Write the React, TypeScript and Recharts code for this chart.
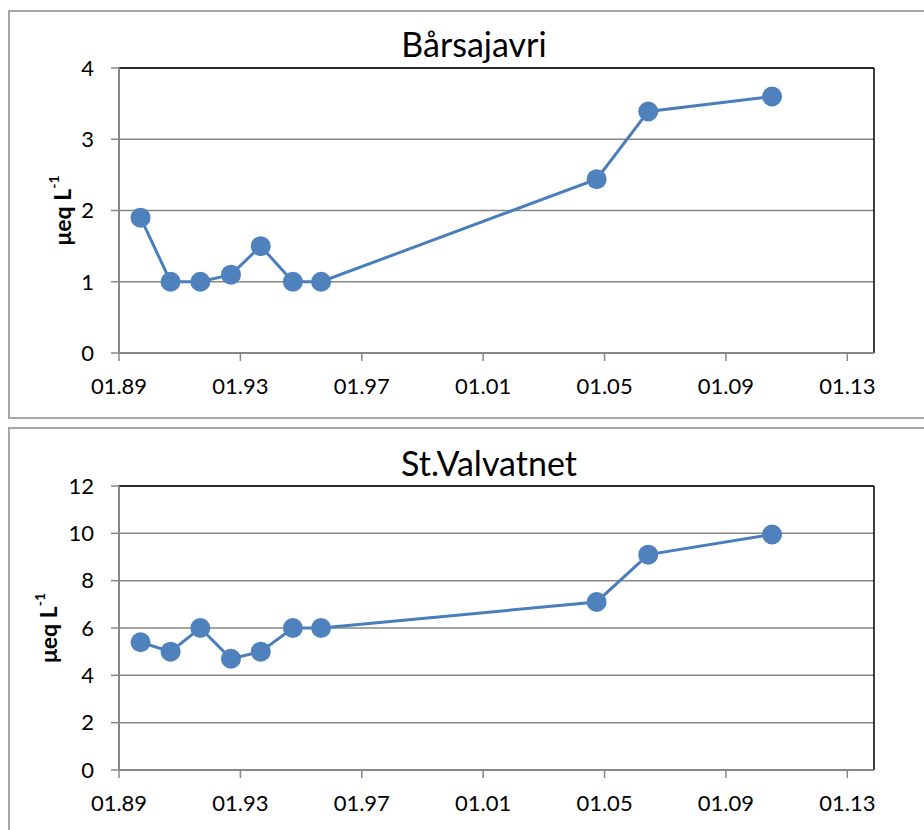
import { LineChart, Line, XAxis, YAxis, CartesianGrid, ReferenceLine } from "recharts";

// sampling dates as decimal years (same dates for both lakes)
const sampleYears = [1989.71, 1990.7, 1991.68, 1992.69, 1993.67, 1994.73, 1995.66, 2004.74, 2006.44, 2010.52];
const barsajavriValues = [1.9, 1.0, 1.0, 1.1, 1.5, 1.0, 1.0, 2.44, 3.39, 3.6];
const valvatnetValues = [5.4, 5.0, 6.0, 4.7, 5.0, 6.0, 6.0, 7.1, 9.1, 9.95];

const xTickYears = [1989, 1993, 1997, 2001, 2005, 2009, 2013];
const xTickLabels = ["01.89", "01.93", "01.97", "01.01", "01.05", "01.09", "01.13"];
const barsajavriTicks = [0, 1, 2, 3, 4];
const valvatnetTicks = [0, 2, 4, 6, 8, 10, 12];

const X_MAX = 2013.88;
const FONT = "Lato, 'Open Sans', sans-serif";
const GRID = "#878787";
const BLUE = "#4a7ebb";

function UnitLabel({ viewBox, x }: any) {
  const y = viewBox.y + viewBox.height / 2;
  return (
    <text
      x={x}
      y={y}
      transform={`rotate(-90 ${x} ${y})`}
      textAnchor="middle"
      dominantBaseline="central"
      fontFamily={FONT}
      fontWeight="bold"
      fontSize={23}
      fill="#000"
    >
      μeq L<tspan dy={-9} fontSize={14}>-1</tspan>
    </text>
  );
}

function LakeChart({ values, ticks, height, marginTop, marginBottom, labelX }: any) {
  const data = sampleYears.map((year, i) => ({ year, value: values[i] }));
  const yMax = ticks[ticks.length - 1];
  return (
    <LineChart
      width={924}
      height={height}
      data={data}
      margin={{ top: marginTop, right: 50, bottom: marginBottom, left: 39 }}
    >
      <CartesianGrid vertical={false} stroke={GRID} strokeWidth={1.5} />
      <XAxis
        dataKey="year"
        type="number"
        domain={[1989, X_MAX]}
        ticks={xTickYears}
        interval={0}
        tickFormatter={(v: number) => xTickLabels[xTickYears.indexOf(v)]}
        height={40}
        tickSize={8}
        tickMargin={17}
        tick={{ fill: "#000", fontSize: 22, fontFamily: FONT }}
        tickLine={{ stroke: GRID, strokeWidth: 1.5 }}
        axisLine={{ stroke: GRID, strokeWidth: 2 }}
      />
      <YAxis
        type="number"
        domain={[0, yMax]}
        ticks={ticks}
        interval={0}
        width={80}
        tickSize={8}
        tickMargin={17}
        tick={{ fill: "#000", fontSize: 22, fontFamily: FONT }}
        tickLine={{ stroke: GRID, strokeWidth: 1.5 }}
        axisLine={{ stroke: GRID, strokeWidth: 2 }}
        label={{ content: (p: any) => <UnitLabel viewBox={p.viewBox} x={labelX} /> }}
      />
      <ReferenceLine y={yMax} stroke="#000" strokeWidth={1.5} />
      <ReferenceLine x={X_MAX} stroke="#000" strokeWidth={1.5} />
      <Line
        type="linear"
        dataKey="value"
        stroke={BLUE}
        strokeWidth={3}
        dot={{ r: 10, fill: "#4f81bd", stroke: "#4f81bd", strokeWidth: 0 }}
        activeDot={false}
        isAnimationActive={false}
      />
    </LineChart>
  );
}

export default function App() {
  return (
    <div
      style={{
        position: "absolute",
        left: 0,
        top: 0,
        width: 924,
        height: 830,
        overflow: "hidden",
        background: "#fff",
        fontFamily: FONT,
      }}
    >
      <div style={{ position: "absolute", left: 8, top: 10, width: 940, height: 409, border: "2px solid #a6a6a6", boxSizing: "border-box" }} />
      <div style={{ position: "absolute", left: 8, top: 427, width: 940, height: 420, border: "2px solid #a6a6a6", boxSizing: "border-box" }} />

      <div style={{ position: "absolute", left: 0, top: 0 }}>
        <LakeChart values={barsajavriValues} ticks={barsajavriTicks} height={419} marginTop={68} marginBottom={26} labelX={62} />
      </div>
      <div style={{ position: "absolute", left: 0, top: 427 }}>
        <LakeChart values={valvatnetValues} ticks={valvatnetTicks} height={403} marginTop={59} marginBottom={20} labelX={48} />
      </div>

      <svg width={924} height={830} style={{ position: "absolute", left: 0, top: 0, pointerEvents: "none" }}>
        <text x={474} y={57} textAnchor="middle" fontFamily={FONT} fontSize={34} fill="#000">Bårsajavri</text>
        <text x={489} y={476} textAnchor="middle" fontFamily={FONT} fontSize={34} fill="#000">St.Valvatnet</text>
      </svg>
    </div>
  );
}
